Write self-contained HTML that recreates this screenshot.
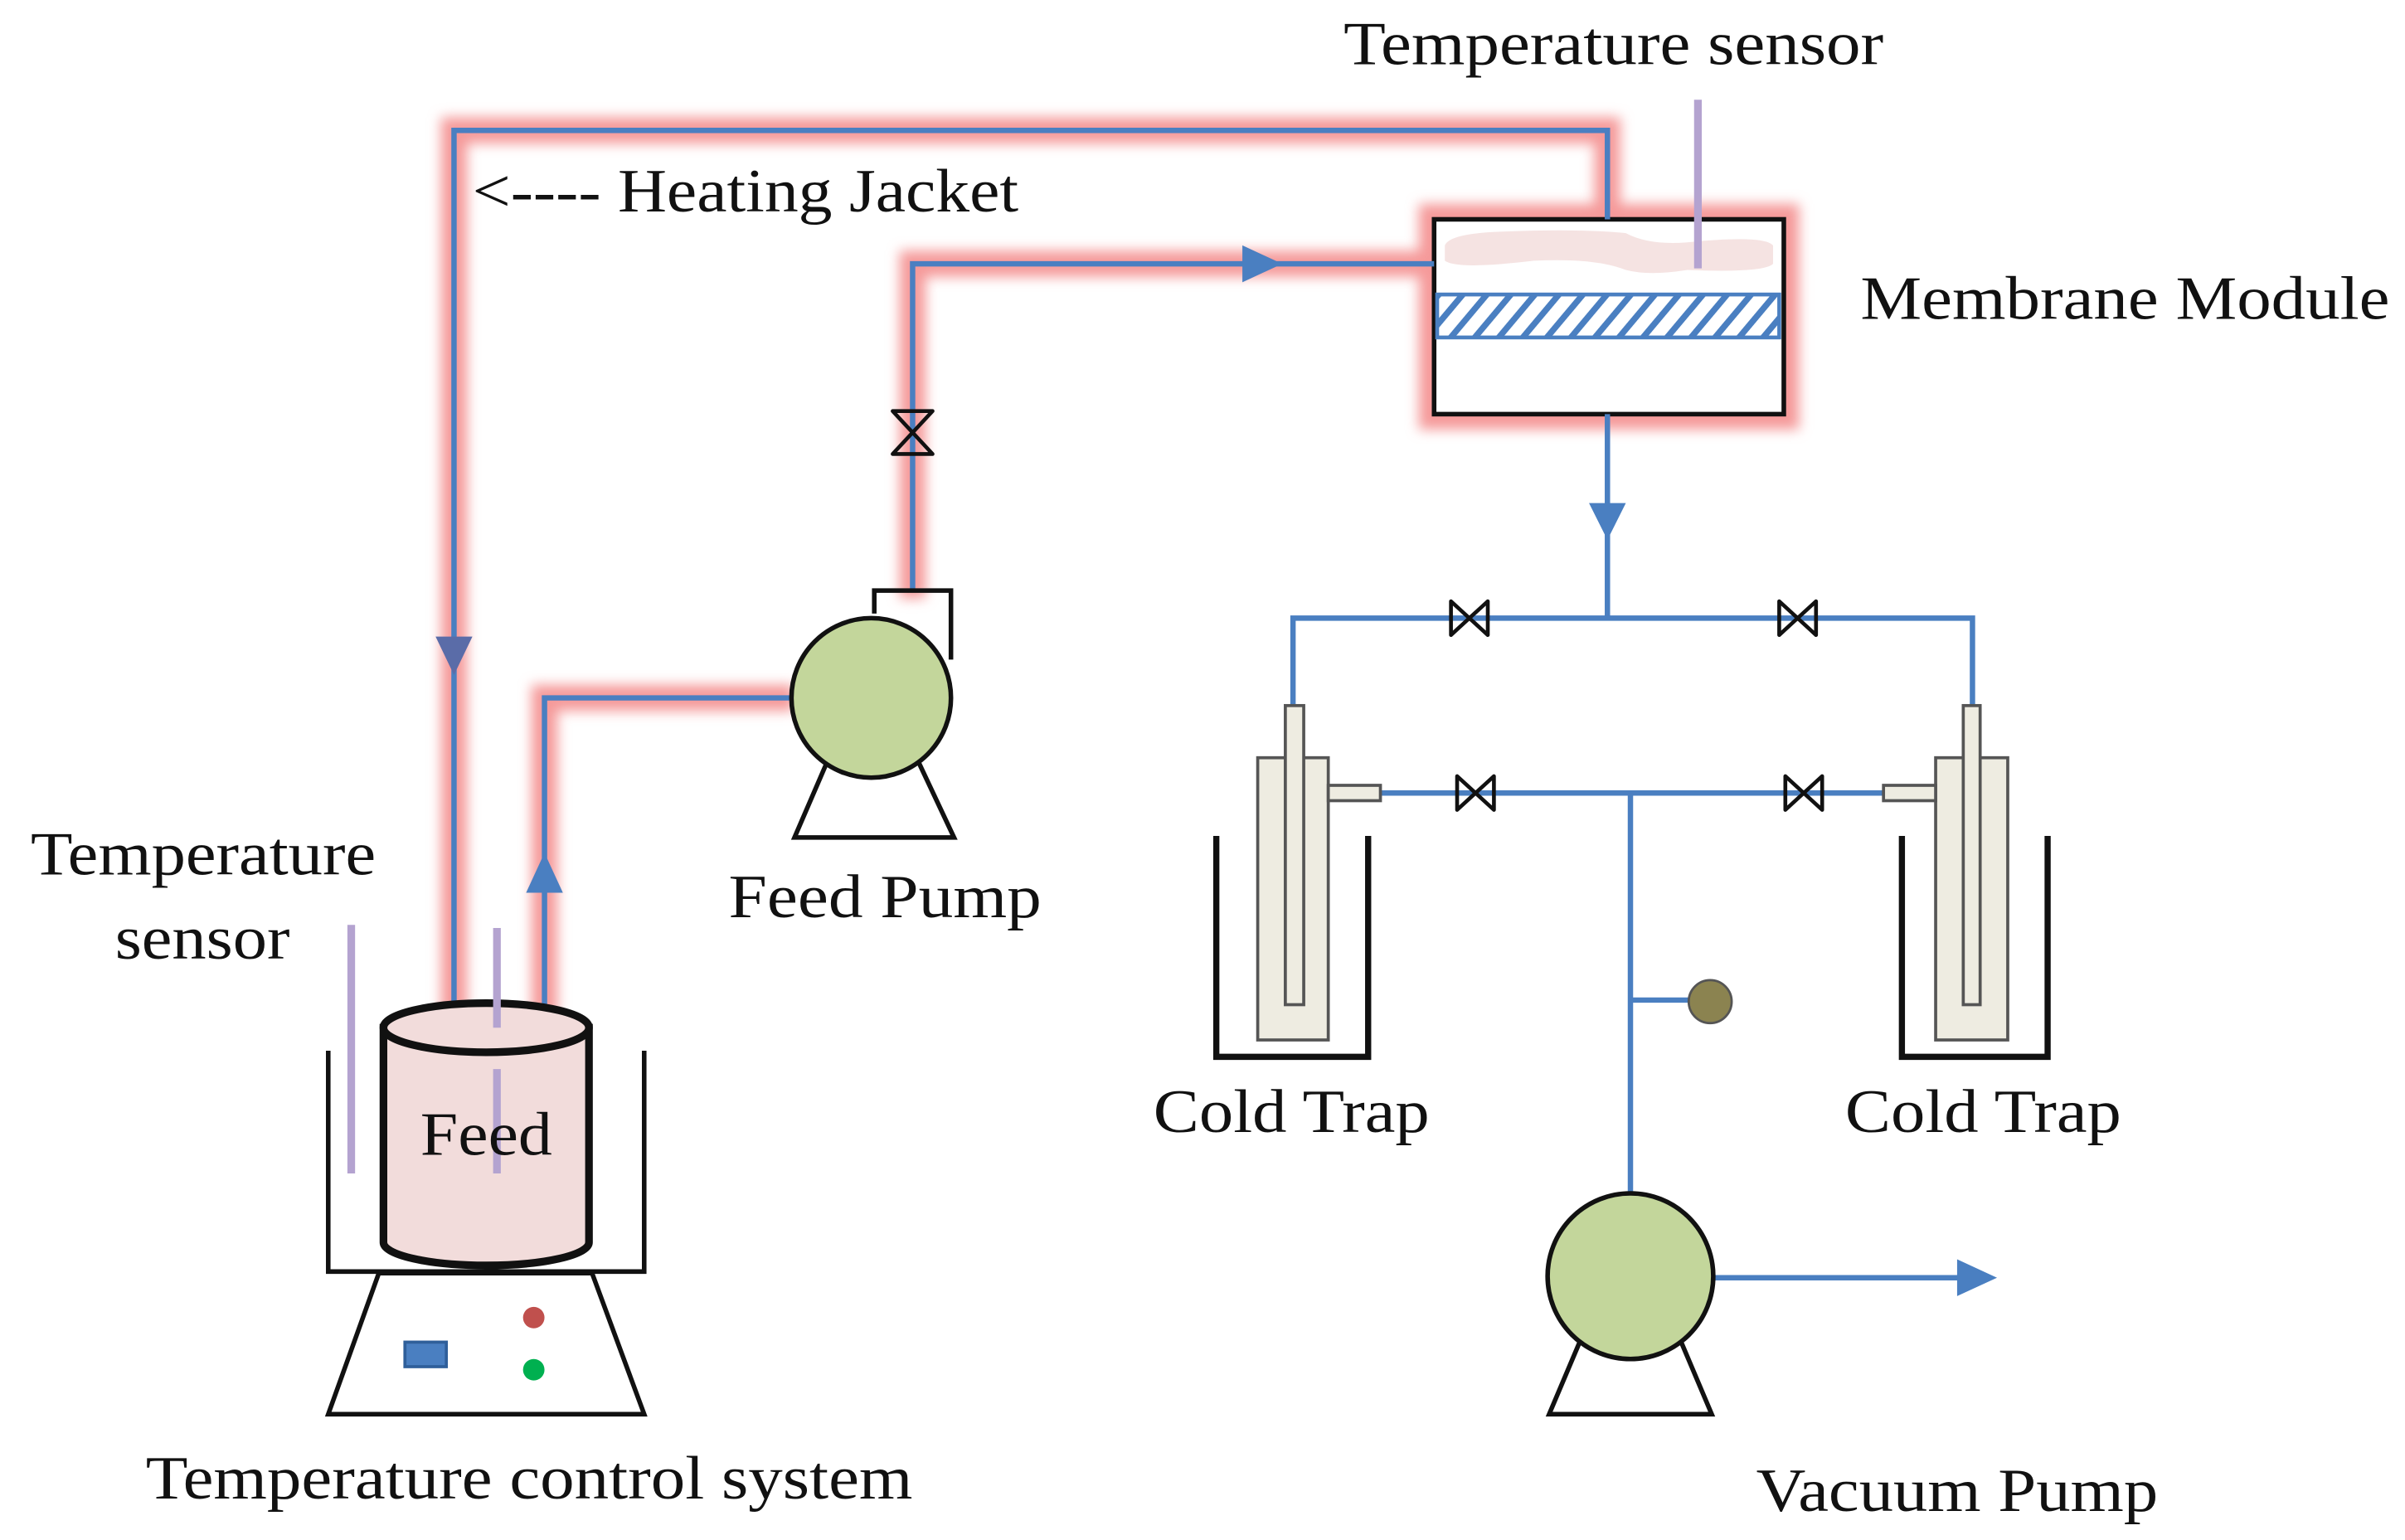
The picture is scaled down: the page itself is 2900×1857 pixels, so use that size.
<!DOCTYPE html>
<html><head><meta charset="utf-8"><style>
html,body{margin:0;padding:0;background:#fff;}
svg{display:block;}
text{font-family:"Liberation Serif",serif;fill:#111;font-size:40px;}
</style></head><body>
<svg width="2900" height="1857" viewBox="0 0 1568 1004" preserveAspectRatio="none" xmlns="http://www.w3.org/2000/svg">
<defs>
<filter id="blur" x="-20%" y="-20%" width="140%" height="140%"><feGaussianBlur stdDeviation="4"/></filter>
<pattern id="hatch" width="12" height="12" patternUnits="userSpaceOnUse" patternTransform="rotate(40)">
<rect width="12" height="12" fill="#fff"/><rect width="4" height="12" fill="#4a7fc1"/></pattern>
</defs>
<rect width="1568" height="1004" fill="#fff"/>
<g filter="url(#blur)" stroke="#f59a9a" stroke-width="17" fill="none">
<polyline points="296,662 296,85 1048,85 1048,150"/>
<polyline points="355,662 355,455 518,455"/>
<polyline points="595,390 595,172 935,172"/>
<rect x="935" y="143" width="228" height="127" stroke-width="20"/>
</g>
<rect x="935" y="143" width="228" height="127" fill="#fff" stroke="#111" stroke-width="3"/>
<path d="M942,160 Q945,152 980,151 Q1030,149 1060,152 Q1075,160 1100,158 Q1150,153 1156,160 L1156,172 Q1150,178 1100,176 Q1075,180 1060,176 Q1040,168 1000,170 Q950,176 942,170 Z" fill="#f2dcdb" opacity="0.8"/>
<rect x="937" y="192" width="223" height="28" fill="url(#hatch)" stroke="#4a7fc1" stroke-width="2.5"/>
<line x1="1107" y1="65" x2="1107" y2="175" stroke="#b4a3d0" stroke-width="5"/>
<g stroke="#4a7fc1" stroke-width="3.5" fill="none">
<polyline points="296,662 296,85 1048,85 1048,143"/>
<polyline points="355,662 355,455 518,455"/>
<polyline points="595,385 595,172 935,172"/>
<polyline points="1048,270 1048,403"/>
<polyline points="843,460 843,403 1286,403 1286,460"/>
<polyline points="900,517 1228,517"/>
<polyline points="1063,517 1063,780"/>
<polyline points="1063,652 1102,652"/>
<polyline points="1117,833 1282,833"/>
</g>
<polygon points="284,415 308,415 296,440" fill="#5a6ca8"/>
<polygon points="343,582 367,582 355,556" fill="#4a7fc1"/>
<polygon points="810,160 810,184 836,172" fill="#4a7fc1"/>
<polygon points="1036,328 1060,328 1048,352" fill="#4a7fc1"/>
<polygon points="1276,821 1276,845 1302,833" fill="#4a7fc1"/>
<g stroke="#111" stroke-width="2.5" fill="none" stroke-linejoin="round">
<polygon points="582,268 608,268 582,296 608,296"/>
<polygon points="946,392 946,414 970,392 970,414"/>
<polygon points="1160,392 1160,414 1184,392 1184,414"/>
<polygon points="950,506 950,528 974,506 974,528"/>
<polygon points="1164,506 1164,528 1188,506 1188,528"/>
</g>
<polyline points="570,400 570,385 620,385 620,430" fill="none" stroke="#111" stroke-width="3"/>
<polygon points="540,495 518,546 622,546 598,495" fill="#fff" stroke="#111" stroke-width="3"/>
<circle cx="568" cy="455" r="52" fill="#c3d69b" stroke="#111" stroke-width="3"/>
<polygon points="1032,870 1010,922 1116,922 1094,870" fill="#fff" stroke="#111" stroke-width="3"/>
<circle cx="1063" cy="832" r="54" fill="#c3d69b" stroke="#111" stroke-width="3"/>
<circle cx="1115" cy="653" r="14" fill="#8b8350" stroke="#555" stroke-width="1.5"/>
<g stroke="#555" stroke-width="2" fill="#eeece1">
<rect x="820" y="494" width="46" height="184"/>
<rect x="866" y="512" width="34" height="10"/>
<rect x="838" y="460" width="12" height="195"/>
<rect x="1262" y="494" width="47" height="184"/>
<rect x="1228" y="512" width="34" height="10"/>
<rect x="1280" y="460" width="11" height="195"/>
</g>
<g stroke="#111" stroke-width="4" fill="none">
<polyline points="793,545 793,689 892,689 892,545"/>
<polyline points="1240,545 1240,689 1335,689 1335,545"/>
</g>
<polyline points="214,685 214,829 420,829 420,685" fill="none" stroke="#111" stroke-width="3"/>
<polygon points="247,830 214,922 420,922 386,830" fill="#fff" stroke="#111" stroke-width="3"/>
<rect x="264" y="875" width="27" height="16" fill="#4a7fc1" stroke="#2f5f9a" stroke-width="2"/>
<circle cx="348" cy="859" r="7" fill="#c0504d"/>
<circle cx="348" cy="893" r="7" fill="#00b050"/>
<path d="M250,670 L250,810 A67,15 0 0 0 384,810 L384,670 Z" fill="#f2dcdb" stroke="#111" stroke-width="5"/>
<ellipse cx="317" cy="670" rx="67" ry="16" fill="#f2dcdb" stroke="#111" stroke-width="5"/>
<g stroke="#b4a3d0" stroke-width="5">
<line x1="229" y1="603" x2="229" y2="765"/>
<line x1="324" y1="605" x2="324" y2="670"/>
<line x1="324" y1="697" x2="324" y2="765"/>
</g>
<text x="876" y="42" textLength="352" lengthAdjust="spacingAndGlyphs">Temperature sensor</text>
<text x="308" y="138" textLength="356" lengthAdjust="spacingAndGlyphs">&lt;---- Heating Jacket</text>
<text x="1213" y="208" textLength="345" lengthAdjust="spacingAndGlyphs">Membrane Module</text>
<text x="475" y="598" textLength="204" lengthAdjust="spacingAndGlyphs">Feed Pump</text>
<text x="20" y="570" textLength="225" lengthAdjust="spacingAndGlyphs">Temperature</text>
<text x="75" y="625" textLength="114" lengthAdjust="spacingAndGlyphs">sensor</text>
<text x="274" y="753" textLength="86" lengthAdjust="spacingAndGlyphs">Feed</text>
<text x="752" y="738" textLength="180" lengthAdjust="spacingAndGlyphs">Cold Trap</text>
<text x="1203" y="738" textLength="180" lengthAdjust="spacingAndGlyphs">Cold Trap</text>
<text x="95" y="977" textLength="500" lengthAdjust="spacingAndGlyphs">Temperature control system</text>
<text x="1145" y="985" textLength="262" lengthAdjust="spacingAndGlyphs">Vacuum Pump</text>
</svg>
</body></html>
